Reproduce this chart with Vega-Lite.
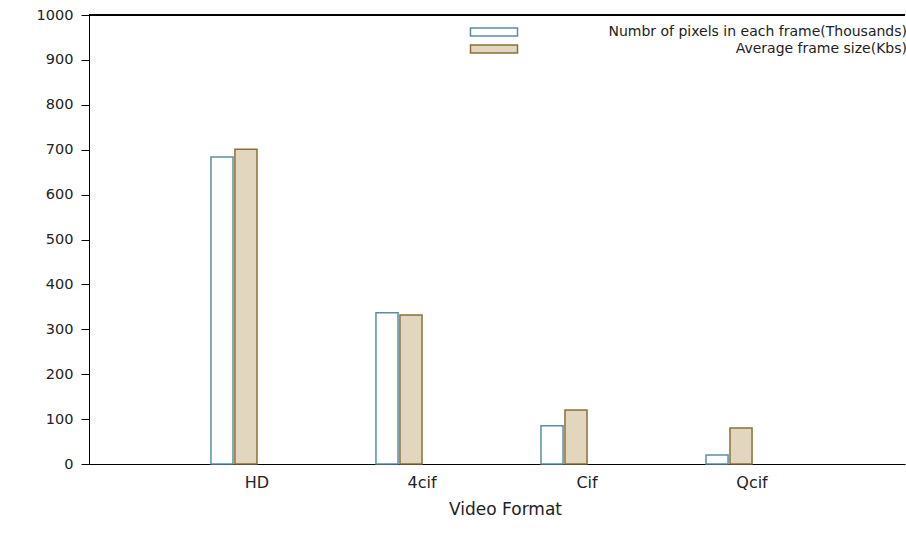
{
  "$schema": "https://vega.github.io/schema/vega-lite/v6.json",
  "width": 816,
  "height": 449,
  "autosize": {"type": "none"},
  "padding": {"left": 89, "top": 15, "right": 1, "bottom": 70},
  "background": "white",
  "config": {"view": {"stroke": null}, "font": "DejaVu Sans"},
  "data": {
    "values": [
      {"format": "HD", "series": "Numbr of pixels in each frame(Thousands)", "value": 684},
      {"format": "HD", "series": "Average frame size(Kbs)", "value": 701},
      {"format": "4cif", "series": "Numbr of pixels in each frame(Thousands)", "value": 337},
      {"format": "4cif", "series": "Average frame size(Kbs)", "value": 332},
      {"format": "Cif", "series": "Numbr of pixels in each frame(Thousands)", "value": 85},
      {"format": "Cif", "series": "Average frame size(Kbs)", "value": 120},
      {"format": "Qcif", "series": "Numbr of pixels in each frame(Thousands)", "value": 20},
      {"format": "Qcif", "series": "Average frame size(Kbs)", "value": 80}
    ]
  },
  "layer": [
    {
      "mark": {"type": "bar", "strokeWidth": 1.5},
      "encoding": {
        "x": {
          "field": "format",
          "type": "nominal",
          "sort": ["HD", "4cif", "Cif", "Qcif"],
          "scale": {"paddingInner": 0.721, "paddingOuter": 0.833, "align": 0.4436},
          "axis": {
            "title": "Video Format",
            "titleX": 416,
            "labelAngle": 0,
            "labelOffset": 23,
            "ticks": false,
            "domainColor": "black",
            "labelFontSize": 16,
            "labelColor": "#222",
            "labelPadding": 10,
            "titleFontSize": 17,
            "titleFontWeight": "normal",
            "titleColor": "#222",
            "titlePadding": 11
          }
        },
        "xOffset": {
          "field": "series",
          "type": "nominal",
          "sort": ["Numbr of pixels in each frame(Thousands)", "Average frame size(Kbs)"],
          "scale": {"paddingInner": 0.08}
        },
        "y": {
          "field": "value",
          "type": "quantitative",
          "scale": {"domain": [0, 1000], "nice": false},
          "axis": {
            "title": null,
            "format": "d",
            "values": [0, 100, 200, 300, 400, 500, 600, 700, 800, 900, 1000],
            "grid": false,
            "tickSize": 8,
            "tickColor": "black",
            "domainColor": "black",
            "labelFontSize": 14.5,
            "labelColor": "#222",
            "labelPadding": 8
          }
        },
        "fill": {
          "field": "series",
          "type": "nominal",
          "scale": {
            "domain": ["Numbr of pixels in each frame(Thousands)", "Average frame size(Kbs)"],
            "range": ["white", "#e2d6bf"]
          },
          "legend": {
            "orient": "none",
            "legendX": 397,
            "legendY": 9,
            "padding": 0,
            "title": null,
            "symbolType": "M-3.36,-0.57H3.36V0.57H-3.36Z",
            "symbolSize": 196,
            "symbolStrokeWidth": 1.5,
            "labelFontSize": 14,
            "labelColor": "#222",
            "labelAlign": "right",
            "labelOffset": 405,
            "rowPadding": 2,
            "labelLimit": 400
          }
        },
        "stroke": {
          "field": "series",
          "type": "nominal",
          "scale": {
            "domain": ["Numbr of pixels in each frame(Thousands)", "Average frame size(Kbs)"],
            "range": ["#5a8ea3", "#8b7038"]
          }
        }
      }
    },
    {
      "mark": {"type": "rule", "color": "black", "strokeWidth": 1},
      "encoding": {"y": {"datum": 1000}}
    }
  ]
}
